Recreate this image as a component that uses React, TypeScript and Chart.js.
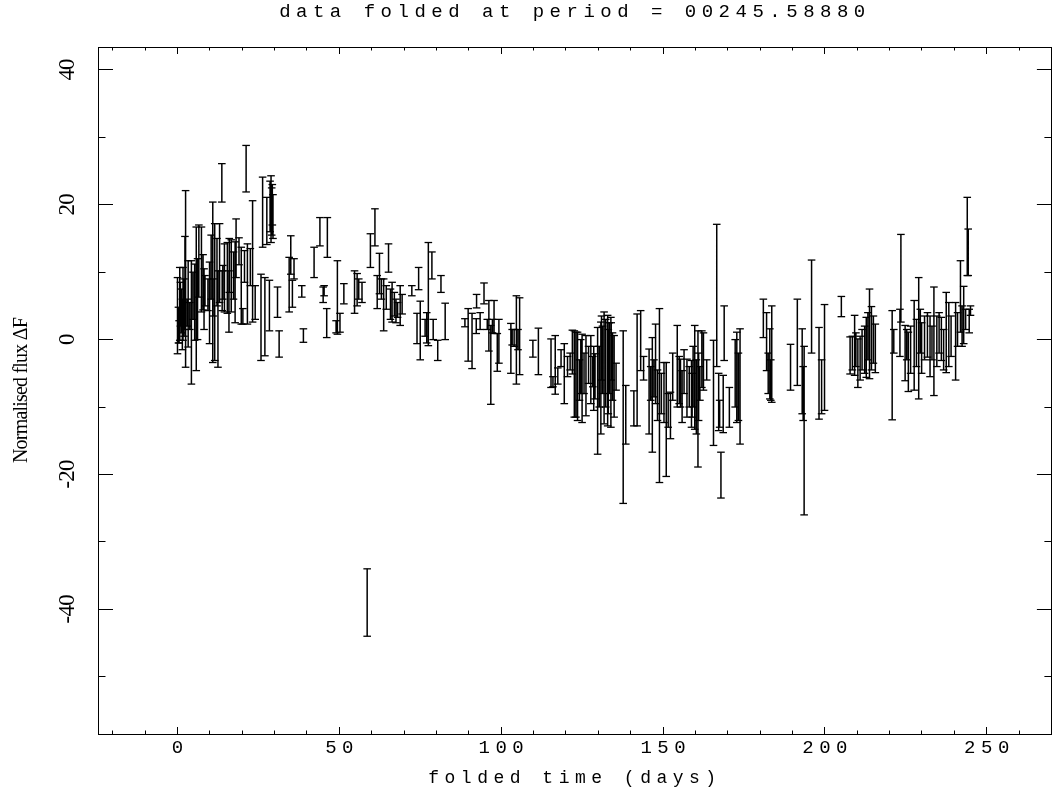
import React, { useEffect, useRef } from 'react';
import { Chart, registerables } from 'chart.js';

Chart.register(...registerables);

// ---- data ----
const foldedTime = [
  0.0, 0.3, 0.5, 0.7, 1.2, 1.7, 2.3, 2.5, 3.0, 3.3, 3.8, 4.3, 5.3, 5.8, 6.6, 7.4, 7.9, 8.5, 9.4, 9.9,
  10.9, 11.5, 12.2, 12.5, 13.0, 13.7, 13.8, 14.5, 15.4, 15.9, 16.6, 17.3, 18.1, 19.0, 19.7, 20.2, 20.7, 21.2, 21.6, 22.5,
  23.2, 24.0, 25.8, 26.3, 27.0, 27.6, 28.4, 28.6, 28.9, 29.1, 29.3, 29.5, 30.9, 31.4, 34.5, 35.0, 35.5, 36.0, 38.4, 38.9,
  42.2, 44.0, 45.0, 45.3, 46.1, 46.3, 49.0, 49.4, 50.2, 51.4, 54.7, 55.5, 56.0, 57.0, 58.6, 59.6, 61.0, 61.7, 62.4, 63.0,
  63.7, 64.5, 65.2, 65.8, 66.3, 67.0, 67.5, 68.0, 68.8, 69.4, 72.4, 74.0, 74.5, 75.0, 76.5, 77.0, 77.5, 78.6, 79.0, 80.4,
  81.4, 82.7, 88.8, 89.8, 91.0, 92.3, 92.4, 93.5, 94.7, 95.7, 96.2, 96.8, 97.3, 97.8, 98.8, 99.3, 103.0, 103.4, 104.0, 104.7,
  105.2, 105.7, 109.8, 111.5, 115.4, 116.0, 116.7, 117.5, 118.5, 119.5, 120.5, 121.3, 122.0, 122.6, 123.1, 123.6, 124.2, 125.0, 125.6, 126.2,
  127.0, 127.7, 128.3, 129.0, 129.8, 130.3, 130.8, 131.3, 131.8, 132.3, 132.9, 133.4, 133.9, 134.4, 134.9, 135.5, 137.7, 138.5, 141.0, 142.0,
  143.1, 144.0, 145.7, 146.2, 146.7, 147.2, 147.7, 148.3, 148.9, 149.5, 150.3, 151.0, 151.6, 152.3, 154.4, 155.0, 155.4, 155.9, 157.4, 158.1,
  158.8, 159.3, 159.8, 160.3, 160.8, 161.4, 162.0, 162.5, 163.5, 165.6, 166.6, 167.2, 167.5, 167.9, 168.6, 168.9, 170.5, 172.3, 172.8, 173.3,
  173.8, 181.0, 182.0, 182.5, 183.0, 183.3, 183.6, 189.4, 191.5, 193.0, 193.3, 193.6, 195.9, 198.2, 199.0, 199.9, 205.1, 207.8, 208.5, 209.2,
  209.6, 210.2, 210.9, 211.5, 212.3, 212.8, 213.3, 213.8, 214.4, 215.0, 215.6, 220.8, 221.3, 223.2, 223.5, 224.8, 225.3, 225.8, 226.5, 227.6,
  228.3, 229.0, 229.5, 229.9, 230.8, 231.7, 232.5, 233.1, 233.7, 234.6, 235.3, 236.0, 236.7, 237.5, 238.3, 239.0, 240.4, 241.0, 241.9, 242.4,
  242.9, 243.5, 244.0, 244.3, 244.6, 245.0,
  0.9, 1.5, 2.0, 4.8, 6.2, 8.2, 10.4, 11.0, 14.0, 16.0, 17.8,
  124.6, 128.6, 131.0, 133.1, 134.0, 153.0, 156.5, 159.0, 161.0,
];
const fluxLow = [
  -2.1, -0.5, -0.5, -0.1, 1.0, -0.1, 1.5, -4.1, 2.0, -1.1, 1.5, -6.6, -0.1, -4.6, 6.3, 4.1, 4.4, 5.0, 4.3, -0.6,
  -3.4, -3.1, 5.0, -4.1, 5.5, 20.4, 4.3, 4.1, 3.9, 1.1, 4.1, 6.0, 9.2, 11.1, 2.3, 2.3, 8.5, 21.9, 2.3, 8.0,
  2.6, 3.0, -3.1, 13.7, -2.4, 14.1, 1.3, 16.0, 14.4, 15.5, 17.0, 15.0, 3.3, -2.6, 4.1, 9.7, 4.8, 9.0, 6.3, -0.4,
  9.2, 13.9, 5.5, 6.5, 0.3, 12.2, 1.0, 0.8, 1.1, 5.3, 3.9, 5.0, 6.0, 5.5, -44.0, 10.7, 13.9, 4.6, 6.8, 6.0,
  1.3, 4.5, 10.0, 3.0, 2.6, 3.5, 2.5, 3.3, 2.1, 3.8, 6.5, -0.6, 7.4, -3.0, 0.5, -0.5, -0.9, 9.0, 0.0, -3.1,
  7.0, 0.0, 1.9, -3.2, -4.3, 0.9, 4.7, 1.5, 5.3, 1.5, -1.7, -9.6, 1.0, 0.9, -4.7, -3.5, -5.0, -0.8, -1.0, -6.6,
  -1.5, -5.2, -2.6, -5.2, -7.1, -7.0, -8.1, -6.6, -4.0, -9.5, -5.5, -4.5, -5.1, -11.5, -11.5, -12.0, -9.0, -12.3, -8.0, -11.3,
  -6.5, -9.5, -7.0, -8.8, -17.0, -10.0, -14.0, -8.0, -12.5, -10.0, -12.8, -8.0, -13.0, -9.0, -11.5, -7.5, -24.3, -15.5, -12.8, -12.8,
  -4.6, -6.0, -14.0, -9.0, -16.7, -8.5, -9.5, -12.0, -21.2, -11.0, -12.3, -20.3, -13.0, -14.7, -10.0, -9.5, -10.0, -12.3, -11.5, -10.0,
  -13.0, -10.0, -13.3, -14.0, -18.9, -9.0, -7.1, -7.5, -6.0, -15.7, -4.0, -13.5, -13.0, -23.5, -13.8, -3.1, -13.0, -10.0, -12.3, -12.0,
  -15.5, 0.3, -4.6, -8.0, -8.8, -9.0, -9.3, -7.5, -6.8, -11.0, -12.0, -26.0, -2.0, -11.8, -11.0, -10.5, 3.4, -5.1, -4.5, -5.3,
  -4.0, -7.1, -6.0, -4.5, -5.0, -5.6, -3.0, -5.8, -4.5, -3.5, -4.9, -11.9, -2.0, -2.5, 2.6, -6.1, -3.0, -7.7, -5.0, -7.5,
  -4.0, -8.8, -2.0, -5.0, -3.0, -2.6, -5.5, -3.0, -8.3, -4.0, -2.0, -3.1, -4.5, -4.9, -4.0, -2.5, -6.0, -1.0, 1.1, -1.0,
  -0.6, 1.5, 9.5, 9.5, 1.0, 3.6,
  2.0, -1.5, 0.5, 3.0, 0.0, 1.5, 6.0, 3.5, 6.0, 7.0, 2.5,
  -8.0, -10.5, -6.0, -11.0, -6.0, -9.0, -8.0, -11.5, -12.0,
];
const fluxHigh = [
  9.2, 4.8, 2.8, 10.7, 7.5, 10.7, 15.3, 22.1, 6.0, 11.7, 5.5, 11.7, 11.2, 16.7, 17.0, 16.7, 12.6, 9.5, 9.0, 11.5,
  20.4, 17.2, 15.0, 10.2, 17.2, 26.1, 10.2, 14.2, 14.4, 10.2, 14.8, 13.0, 17.9, 15.1, 13.7, 4.6, 13.2, 28.8, 14.2, 13.5,
  20.6, 8.0, 9.7, 24.1, 9.2, 21.1, 8.8, 23.5, 24.3, 22.5, 23.0, 21.5, 7.8, 1.3, 12.2, 15.4, 8.8, 12.0, 8.0, 1.6,
  13.7, 18.1, 7.8, 8.0, 4.6, 18.1, 2.8, 11.7, 3.9, 8.3, 10.2, 9.8, 9.0, 8.5, -34.0, 15.7, 19.4, 9.5, 12.8, 9.0,
  9.0, 8.0, 14.2, 7.5, 8.5, 7.0, 6.0, 5.5, 8.0, 6.7, 8.0, 3.9, 10.7, 5.7, 3.0, 4.0, 14.4, 13.0, 3.0, -0.1,
  9.5, 5.4, 3.1, 4.6, 3.9, 3.1, 6.7, 4.0, 8.4, 3.0, 5.8, 2.1, 3.0, 5.8, 0.9, 3.0, 2.4, 1.5, 1.5, 6.5,
  1.5, 6.2, -0.1, 1.7, 0.1, -5.5, 0.6, -4.2, -1.5, -0.6, -2.5, -2.0, 1.4, 1.3, 1.1, 1.1, -3.0, 0.8, -2.0, 0.6,
  -1.0, 0.6, -2.5, -2.1, 1.8, -1.0, 2.6, 2.0, 4.1, 3.0, 3.6, 2.5, 3.3, 1.0, 0.6, -3.5, 1.3, -6.8, -7.6, 3.8,
  4.3, -2.5, -1.4, -4.0, 0.3, -3.0, 2.3, -4.5, 4.6, -5.0, -3.4, -3.4, -8.0, -7.8, 2.1, -2.5, -2.9, -4.6, -2.9, -4.0,
  -3.1, -1.0, 2.1, -3.0, 1.3, -4.0, 1.3, 1.0, -3.0, -0.1, 17.1, -5.0, -9.0, -16.7, -5.3, 5.0, -7.1, 0.0, 1.1, -2.0,
  1.6, 6.0, 4.0, -2.0, 1.6, -3.0, 5.0, -0.7, 6.0, 1.6, -4.0, -1.0, 11.8, 1.8, -3.0, 5.2, 6.4, 0.4, 0.5, 3.6,
  1.0, 0.1, 0.5, 1.5, 2.0, 3.3, 4.0, 7.5, 4.9, 3.5, 2.3, 4.3, 1.5, 4.5, 15.6, 2.1, 1.5, 1.1, 2.0, 5.8,
  3.0, 9.2, 4.5, 2.5, 3.5, 4.0, 3.5, 2.0, 7.8, 3.5, 4.0, 3.3, 1.5, 7.0, 5.5, 3.5, 5.5, 4.0, 11.7, 5.0,
  7.9, 4.5, 21.1, 16.4, 4.5, 5.0,
  8.5, 6.0, 9.0, 10.0, 12.0, 10.5, 15.5, 9.0, 11.0, 15.0, 14.5,
  0.0, -1.0, 3.5, 1.5, 2.5, -2.0, -1.5, -5.0, -2.0,
];

const xLimits = [-24.56, 270.15];
const yLimits = [-58.5, 43.4];
const xMajorStep = 50;
const xMinorStep = 10;
const yMajorStep = 20;
const yMinorStep = 10;

const chartTitle = 'data folded at period = 00245.58880';
const xTitle = 'folded time (days)';
const yTitle = 'Normalised flux ΔF';

const MONO = "'Liberation Mono', 'DejaVu Sans Mono', monospace";
const SERIF = "'Liberation Serif', 'DejaVu Serif', serif";

const letterSpacingPlugin = {
  id: 'letterSpacingPlugin',
  beforeDraw(chart: any) {
    chart.ctx.letterSpacing = '5.5px';
  },
  afterDatasetsDraw(chart: any) {
    chart.ctx.letterSpacing = '-0.8px';
  },
  afterDraw(chart: any) {
    chart.ctx.letterSpacing = '0px';
  },
};

function tickAxis(axis: 'x' | 'y', position: string, step: number, len: number, border: boolean, weight: number, size: number) {
  const lim = axis === 'x' ? xLimits : yLimits;
  return {
    type: 'linear',
    axis,
    position,
    weight,
    min: lim[0],
    max: lim[1],
    ticks: { display: false, stepSize: step, includeBounds: false, autoSkip: false },
    grid: { drawOnChartArea: false, drawTicks: true, tickLength: -len, color: '#000', lineWidth: 1 },
    border: { display: border, color: '#000', width: 1 },
    afterFit: (s: any) => {
      if (axis === 'x') s.height = size;
      else s.width = size;
    },
  };
}

export default function App() {
  const ref = useRef<HTMLCanvasElement>(null);

  useEffect(() => {
    if (!ref.current) return;
    const barPoints: any[] = [];
    const capPoints: any[] = [];
    foldedTime.forEach((t, i) => {
      barPoints.push({ x: t, y: fluxLow[i] }, { x: t, y: fluxHigh[i] }, { x: t, y: null });
      capPoints.push({ x: t, y: fluxLow[i] }, { x: t, y: fluxHigh[i] });
    });

    Chart.defaults.color = '#000';

    const chart = new Chart(ref.current, {
      type: 'scatter',
      data: {
        datasets: [
          {
            label: 'error bars',
            data: barPoints,
            showLine: true,
            spanGaps: false,
            borderColor: '#000',
            borderWidth: 1.5,
            pointRadius: 0,
            pointHoverRadius: 0,
          } as any,
          {
            label: 'caps',
            data: capPoints,
            showLine: false,
            pointStyle: 'line',
            pointRadius: 3.8,
            pointHoverRadius: 3.8,
            borderColor: '#000',
            pointBorderWidth: 1.3,
            borderWidth: 1.3,
          } as any,
        ],
      },
      options: {
        responsive: false,
        maintainAspectRatio: false,
        animation: false,
        events: [],
        layout: { padding: 0 },
        plugins: {
          legend: { display: false },
          tooltip: { enabled: false },
          title: {
            display: true,
            text: chartTitle,
            fullSize: false,
            color: '#000',
            font: { family: MONO, size: 19, weight: 'normal' },
            padding: { top: 1, bottom: 23.2 },
          },
        },
        scales: {
          x: {
            type: 'linear',
            position: 'bottom',
            weight: 1,
            min: xLimits[0],
            max: xLimits[1],
            ticks: {
              stepSize: xMajorStep,
              includeBounds: false,
              autoSkip: false,
              maxRotation: 0,
              minRotation: 0,
              padding: 10,
              labelOffset: 2.75,
              color: '#000',
              font: { family: MONO, size: 19 },
            },
            grid: { drawOnChartArea: false, drawTicks: true, tickLength: -7, color: '#000', lineWidth: 1 },
            border: { display: true, color: '#000', width: 1 },
            title: {
              display: true,
              text: xTitle,
              color: '#000',
              font: { family: MONO, size: 18 },
              padding: { top: 0, bottom: 3 },
            },
            afterFit: (s: any) => {
              s.height = 58;
            },
          },
          xMinor: tickAxis('x', 'bottom', xMinorStep, 3.5, false, 0, 0),
          xTop: tickAxis('x', 'top', xMajorStep, 7, true, 0, 0),
          xTopMinor: tickAxis('x', 'top', xMinorStep, 3.5, false, 0, 0),
          y: {
            type: 'linear',
            position: 'left',
            weight: 1,
            min: yLimits[0],
            max: yLimits[1],
            ticks: {
              stepSize: yMajorStep,
              includeBounds: false,
              autoSkip: false,
              minRotation: 90,
              maxRotation: 90,
              crossAlign: 'center',
              padding: 30,
              color: '#000',
              z: 1,
              font: { family: SERIF, size: 23 },
            },
            grid: { drawOnChartArea: false, drawTicks: true, tickLength: -15, color: '#000', lineWidth: 1, z: 1 },
            border: { display: true, color: '#000', width: 1, z: 1 },
            title: {
              display: true,
              text: yTitle,
              color: '#000',
              font: { family: SERIF, size: 20 },
              padding: { top: 10, bottom: 0 },
            },
            afterFit: (s: any) => {
              s.width = 98;
            },
          },
          yMinor: tickAxis('y', 'left', yMinorStep, 7.5, false, 0, 0),
          yRight: tickAxis('y', 'right', yMajorStep, 15, true, 0, 0),
          yRightMinor: tickAxis('y', 'right', yMinorStep, 7.5, false, 0, 0),
        } as any,
      },
      plugins: [letterSpacingPlugin],
    } as any);

    return () => chart.destroy();
  }, []);

  return (
    <div
      style={{
        position: 'fixed',
        left: 0,
        top: 0,
        width: 1053,
        height: 792,
        overflow: 'hidden',
        background: '#fff',
      }}
    >
      <canvas ref={ref} width={1057} height={792} style={{ display: 'block', width: 1057, height: 792 }} />
    </div>
  );
}
